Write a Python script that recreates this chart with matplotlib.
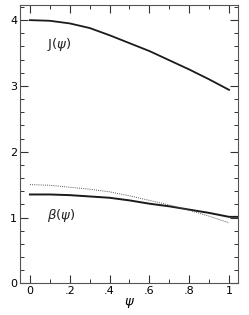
import matplotlib
matplotlib.use("Agg")
import matplotlib.pyplot as plt
from matplotlib.ticker import MultipleLocator, FixedLocator

psi = [0.0, 0.1, 0.2, 0.3, 0.4, 0.5, 0.6, 0.7, 0.8, 0.9, 1.0]
J = [4.00, 3.99, 3.95, 3.88, 3.77, 3.65, 3.53, 3.39, 3.25, 3.10, 2.94]
beta_x = [0.0, 0.1, 0.2, 0.3, 0.4, 0.5, 0.6, 0.7, 0.8, 0.9, 1.0, 1.05]
beta = [1.35, 1.35, 1.34, 1.32, 1.30, 1.26, 1.21, 1.17, 1.12, 1.07, 1.01, 1.01]
beta_dot = [1.50, 1.49, 1.46, 1.43, 1.39, 1.33, 1.26, 1.19, 1.11, 1.02, 0.92]

xticks = [0, 0.2, 0.4, 0.6, 0.8, 1.0]
xticklabels = ["0", ".2", ".4", ".6", ".8", "1"]
yticks = [0, 1, 2, 3, 4]
yticklabels = ["0", "1", "2", "3", "4"]

fig = plt.figure(figsize=(2.49, 3.15), dpi=100)
ax = fig.add_axes([20/249, 1 - 283.3/315, (238-20)/249, (283.3-5)/315])

ax.plot(psi, J, color="#1a1a1a", lw=1.3)
ax.plot(beta_x, beta, color="#1a1a1a", lw=1.4)
ax.plot(psi, beta_dot, color="#555555", lw=0.7, ls=(0, (1, 1.2)))

ax.set_xlim(-0.05, 1.045)
ax.set_ylim(0, 4.23)
ax.xaxis.set_major_locator(FixedLocator(xticks))
ax.set_xticklabels(xticklabels)
ax.yaxis.set_major_locator(FixedLocator(yticks))
ax.set_yticklabels(yticklabels)
ax.xaxis.set_minor_locator(MultipleLocator(0.1))
ax.yaxis.set_minor_locator(MultipleLocator(0.2))
ax.tick_params(which="both", direction="in", top=True, right=True,
               color="#333333", labelsize=8, pad=2)
ax.tick_params(which="major", length=6, width=0.8)
ax.tick_params(which="minor", length=3, width=0.7)
for s in ax.spines.values():
    s.set_color("#555555")
    s.set_linewidth(0.8)

ax.text(0.085, 3.58, r"J($\psi$)", fontsize=9.5, color="#222222")
ax.text(0.085, 0.97, r"$\beta$($\psi$)", fontsize=9.5, color="#222222")
ax.set_xlabel(r"$\psi$", fontsize=9.5, labelpad=0)

fig.savefig("out.png", dpi=100)
